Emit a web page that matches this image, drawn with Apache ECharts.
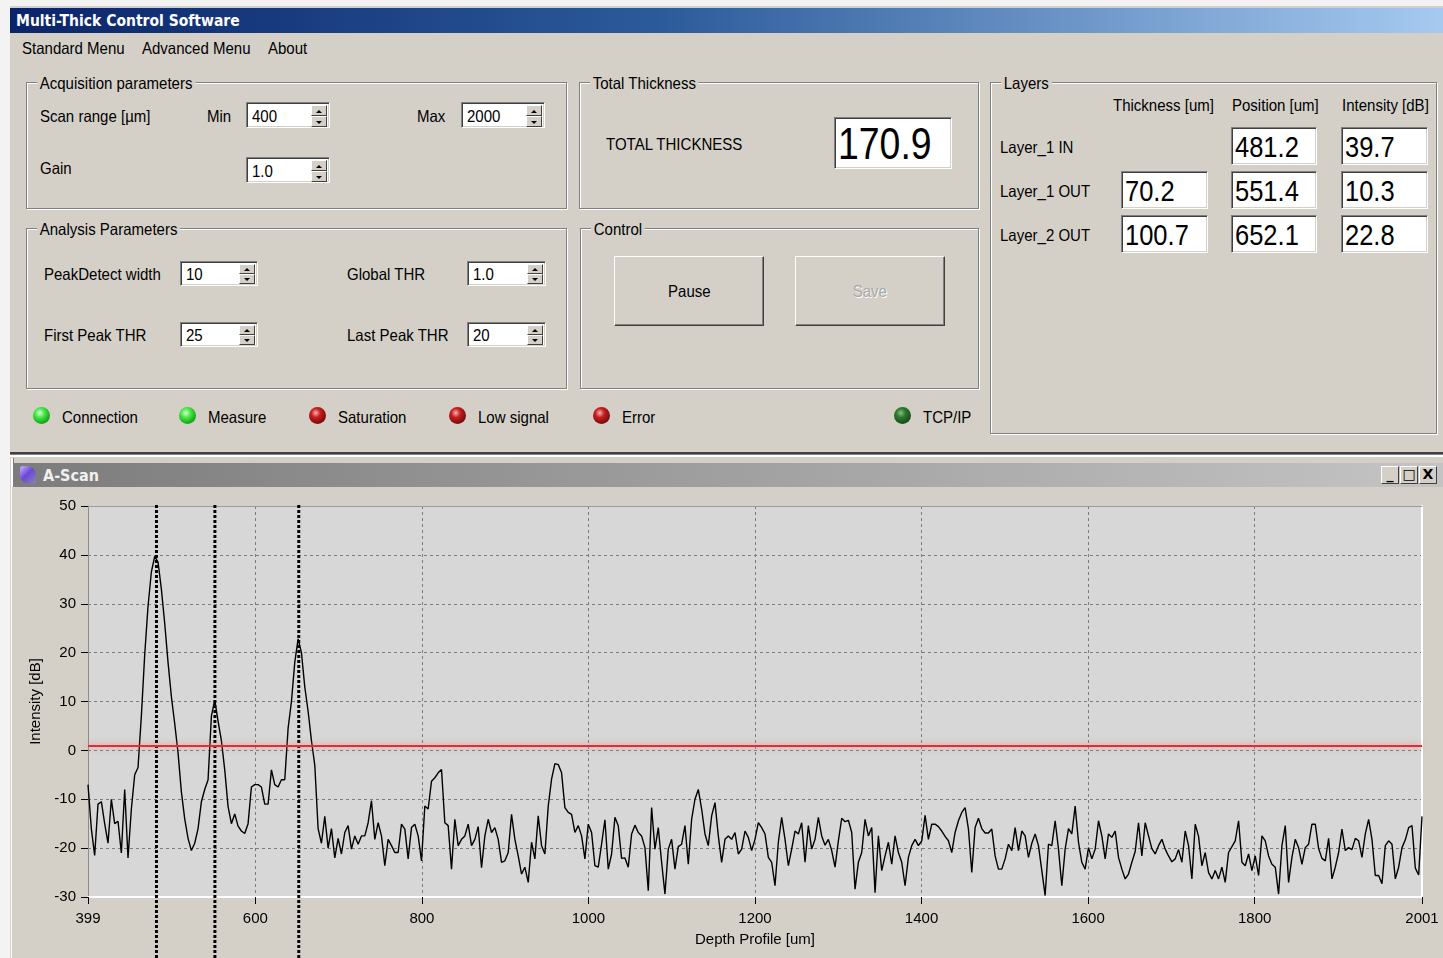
<!DOCTYPE html>
<html>
<head>
<meta charset="utf-8">
<title>Multi-Thick Control Software</title>
<script src="https://cdn.jsdelivr.net/npm/echarts@6/dist/echarts.min.js"></script>
<style>
  html, body { margin: 0; padding: 0; }
  body {
    width: 1443px; height: 958px; overflow: hidden; position: relative;
    background: #f3f3f3;
    font-family: 'Liberation Sans', Arial, sans-serif;
    color: #000;
  }
  #win { position: absolute; left: 10px; top: 6px; right: 0; bottom: 0; background: #d4d0c8; }
  .t { position: absolute; white-space: nowrap; }
  .grp { position: absolute; box-sizing: border-box; border: 1px solid #808080;
         box-shadow: 1px 1px 0 #ffffff, inset 1px 1px 0 #ffffff; }
  .box { position: absolute; box-sizing: border-box; background: #fff;
         border-top: 1px solid #808080; border-left: 1px solid #808080;
         border-bottom: 1px solid #ffffff; border-right: 1px solid #ffffff;
         box-shadow: inset 1px 1px 0 #404040, inset -1px -1px 0 #d4d0c8; overflow: hidden; }
  .spb { position: absolute; right: 2px; width: 16px; box-sizing: border-box; background: #d4d0c8;
         border-top: 1px solid #fff; border-left: 1px solid #fff;
         border-bottom: 1px solid #404040; border-right: 1px solid #404040; }
  .tri { position: absolute; left: 4px; width: 0; height: 0;
         border-left: 3px solid transparent; border-right: 3px solid transparent; }
  .btn { position: absolute; box-sizing: border-box; background: #d4d0c8;
         border-top: 1px solid #ffffff; border-left: 1px solid #ffffff;
         border-bottom: 1px solid #404040; border-right: 1px solid #404040;
         box-shadow: inset -1px -1px 0 #808080; text-align: center; }
  .led { position: absolute; width: 17px; height: 17px; border-radius: 50%; }
  .led.on  { background: radial-gradient(circle at 40% 35%, #d8ffd8 0%, #4be84b 30%, #12a812 70%, #0a6a0a 100%); }
  .led.off { background: radial-gradient(circle at 40% 35%, #ffb0b0 0%, #c42020 30%, #7a0606 75%, #4a0000 100%); }
  .led.dim { background: radial-gradient(circle at 40% 35%, #88c088 0%, #2f7a2f 30%, #154a15 75%, #0a2a0a 100%); }
  #chart { position: absolute; left: 12px; top: 487px; width: 1431px; height: 471px; }
</style>
</head>
<body>
<div id="win"></div>
<div id="ui"></div>
<div id="chart"></div>
<script>
// ---- measurement values -------------------------------------------------
const menuItems = ['Standard Menu', 'Advanced Menu', 'About'];
const scanMin = 400;
const scanMax = 2000;
const gain = '1.0';
const peakDetectWidth = 10;
const globalThr = 1.0;
const firstPeakThr = 25;
const lastPeakThr = 20;
const totalThickness = 170.9;

const layerNames = ['Layer_1 IN', 'Layer_1 OUT', 'Layer_2 OUT'];
const layerThickness = [null, 70.2, 100.7];
const layerPosition = [481.2, 551.4, 652.1];
const layerIntensity = [39.7, 10.3, 22.8];
const layerHeaders = ['Thickness [um]', 'Position [um]', 'Intensity [dB]'];

const ledNames = ['Connection', 'Measure', 'Saturation', 'Low signal', 'Error', 'TCP/IP'];
const ledStates = ['on', 'on', 'off', 'off', 'off', 'dim'];

// A-scan trace: intensity [dB] sampled evenly from depthStart to depthEnd [um]
const depthStart = 399;
const depthEnd = 2001;
const intensity = [
  -7, -16, -21.5, -11, -10.5, -15, -19, -10, -15, -14.5,
  -21, -8, -22, -12, -5, -3.5, 7, 19.5, 29.5, 36.5,
  39.7, 38.5, 33, 26, 18, 11, 5.5, -0.5, -8.5, -14,
  -18, -20.5, -19, -16, -10.5, -8, -6, 7, 10.3, 6,
  2, -4, -11.5, -15, -13, -15.5, -16.5, -17, -15, -7.5,
  -7, -7, -7.5, -11, -11, -4, -7, -7.5, -6, -6,
  4.5, 10, 18, 22.8, 20, 13, 8, 2, -3, -16,
  -19, -13.5, -20, -16, -22, -18, -21.2, -16.8, -15.4, -20.2,
  -17.5, -19.2, -17.5, -17.5, -14.8, -10.3, -18.2, -14.8, -17.5, -23.6,
  -18.2, -19.5, -20.9, -20.9, -15.1, -16.1, -22.2, -15.8, -15.1, -17.5,
  -22.6, -11.4, -12, -6.3, -5.6, -4.6, -3.9, -14.8, -15.4, -24.3,
  -14.1, -19.5, -18.2, -17.5, -15.1, -19.5, -18.2, -15.6, -24, -17.5,
  -14.1, -16.8, -15.8, -18.2, -22.9, -22.6, -20.9, -13.1, -18.2, -21.6,
  -25.3, -23.9, -27, -18.8, -22.2, -13.4, -19.5, -21.2, -11.4, -5.9,
  -2.7, -2.9, -4.6, -11.7, -12.7, -13.1, -16.8, -15.4, -17.5, -22.2,
  -15.1, -16.8, -23.6, -23.9, -19.2, -14.2, -24.3, -21.2, -13.7, -15.4,
  -22.1, -22, -23.9, -17.1, -15.3, -16.8, -17.5, -19.9, -28.7, -11.7,
  -20.2, -15.8, -22.9, -29.4, -20.2, -18.2, -24.3, -19.7, -19.2, -15.4,
  -23.3, -14.1, -10, -8, -12, -17.1, -19.5, -13.4, -10.7, -17.5,
  -22.9, -18.2, -17.5, -18.2, -16.8, -21.2, -20.2, -16.5, -17.8, -20.5,
  -18.2, -14.8, -15.8, -17.1, -21.9, -22.9, -27.7, -18.8, -13.7, -18.2,
  -23.6, -20.2, -16.5, -17.1, -14.8, -22.9, -15.4, -20.2, -18.2, -13.7,
  -17.5, -19.4, -18.2, -20.5, -23.9, -18.5, -13.9, -14.6, -14.3, -16.8,
  -28.4, -22.9, -20.9, -14.1, -17.5, -15.8, -29.1, -17.5, -24.6, -21.6,
  -18.8, -23.3, -17.5, -20.9, -22.9, -27.7, -21.9, -19.5, -18.2, -19.5,
  -18.5, -13.3, -18.2, -15.1, -15.1, -15.6, -16.5, -17.6, -18.5, -20.9,
  -16.8, -14.4, -12.7, -11.7, -16.1, -25, -15.8, -13.9, -16, -16.9,
  -16.9, -16.1, -21.6, -24.3, -24.3, -22.2, -19.2, -20.5, -15.8, -20.5,
  -16.5, -17.5, -21.9, -19, -17.1, -19.5, -24.6, -29.7, -19.2, -19.5,
  -14.4, -20.2, -27.7, -20.2, -16, -17.1, -11.4, -18.8, -22.9, -24.3,
  -19.9, -22.2, -20.2, -14.4, -17.5, -22.2, -17.1, -17.8, -16.5, -21.9,
  -24.3, -26.3, -25.3, -22.9, -20.7, -14.8, -21.6, -14.8, -17.5, -20.1,
  -21.2, -19.5, -18.2, -20.2, -21.6, -22.8, -22.2, -20.3, -22.9, -16.5,
  -19.5, -26.3, -15.1, -17.6, -23.6, -20.9, -25, -26.3, -24.6, -26.3,
  -23.9, -27, -20.9, -19.7, -18.5, -14.4, -22.9, -23.6, -21.2, -24.6,
  -21.6, -25.6, -17.5, -18.5, -21.6, -23.3, -23.9, -29.4, -19.5, -15.4,
  -27, -21.9, -18.2, -19.9, -23.3, -19.9, -19.2, -15.1, -15.1, -20.1,
  -22.1, -22.6, -18, -26.3, -23.9, -20.9, -16.1, -20.5, -19.9, -20.3,
  -18, -18.5, -21.9, -17.1, -14.1, -18.2, -25.6, -25.6, -27.3, -19.5,
  -18.5, -19.2, -26.3, -23.9, -19.9, -18.3, -15.8, -15.4, -24.1, -25.5,
  -13.5
];
const xTickValues = [399, 600, 800, 1000, 1200, 1400, 1600, 1800, 2001];
const yMin = -30;
const yMax = 50;
const yStep = 10;

// ---- window chrome ------------------------------------------------------
const ui = document.getElementById('ui');
const UI_FONT = 16.5;
const UI_SQUEEZE = 'scaleX(0.91)';
function add(cls, x, y, w, h, text, extra) {
  const d = document.createElement('div');
  if (cls) d.className = cls;
  d.style.position = 'absolute';
  d.style.left = x + 'px';
  d.style.top = y + 'px';
  if (w != null) d.style.width = w + 'px';
  if (h != null) d.style.height = h + 'px';
  if (text != null) d.textContent = text;
  if (extra) Object.assign(d.style, extra);
  ui.appendChild(d);
  return d;
}
// text placed by its left edge and vertical centre, in the narrow dialog style
function label(text, x, cy, size, extra) {
  const lh = Math.round(size * 1.2);
  return add('t', x, Math.round(cy - lh / 2) + 1, null, null, text,
    Object.assign({ fontSize: size + 'px', lineHeight: lh + 'px', transform: UI_SQUEEZE, transformOrigin: '0 50%' }, extra || {}));
}
function group(title, x, y, w, h) {
  add('grp', x, y, w, h);
  label(title, x + 11, y, UI_FONT, { background: '#d4d0c8', padding: '0 3px' });
}
function spinner(value, x, y, w, h) {
  const b = add('box', x, y, w, h);
  const v = document.createElement('div');
  v.textContent = value;
  Object.assign(v.style, { position: 'absolute', left: '5px', top: '1px', lineHeight: (h - 2) + 'px',
    fontSize: UI_FONT + 'px', transform: UI_SQUEEZE, transformOrigin: '0 50%' });
  b.appendChild(v);
  const half = Math.floor((h - 4) / 2);
  [0, 1].forEach(k => {
    const s = document.createElement('div');
    s.className = 'spb';
    s.style.top = (2 + k * half) + 'px';
    s.style.height = half + 'px';
    const tr = document.createElement('div');
    tr.className = 'tri';
    tr.style.top = Math.round(half / 2 - 2) + 'px';
    if (k === 0) tr.style.borderBottom = '3px solid #000';
    else tr.style.borderTop = '3px solid #000';
    s.appendChild(tr);
    b.appendChild(s);
  });
}
function valueBox(value, x, y, w, h, size) {
  const b = add('box', x, y, w, h);
  if (value == null) return b;
  const v = document.createElement('div');
  v.textContent = value;
  Object.assign(v.style, { position: 'absolute', left: '3px', top: '1px', lineHeight: (h - 2) + 'px',
    fontSize: size + 'px', transform: 'scaleX(0.85)', transformOrigin: '0 50%' });
  b.appendChild(v);
  return b;
}
function button(text, x, y, w, h, extra) {
  const b = add('btn', x, y, w, h);
  const s = document.createElement('span');
  s.textContent = text;
  Object.assign(s.style, { display: 'inline-block', fontSize: UI_FONT + 'px', lineHeight: (h - 2) + 'px', transform: UI_SQUEEZE }, extra || {});
  b.appendChild(s);
  return b;
}

// title bar and menu
add(null, 10, 8, 1433, 25, null, { background: 'linear-gradient(to right, #0a246a 0%, #2b5a9a 45%, #a6caf0 100%)' });
label('Multi-Thick Control Software', 16, 20, 15.5, { color: '#fff', fontWeight: 'bold', transform: 'none', fontFamily: "'DejaVu Sans Condensed','DejaVu Sans',sans-serif" });
const menuX = [22, 142, 268];
menuItems.forEach((m, i) => label(m, menuX[i], 47, UI_FONT));

// acquisition parameters
group('Acquisition parameters', 26, 82, 541, 127);
label('Scan range [µm]', 40, 115, UI_FONT);
label('Min', 207, 115, UI_FONT);
spinner(String(scanMin), 246, 102, 84, 26);
label('Max', 417, 115, UI_FONT);
spinner(String(scanMax), 461, 102, 84, 26);
label('Gain', 40, 167, UI_FONT);
spinner(gain, 246, 157, 84, 26);

// total thickness
group('Total Thickness', 579, 82, 400, 127);
label('TOTAL THICKNESS', 606, 143, UI_FONT);
valueBox(totalThickness.toFixed(1), 834, 117, 118, 52, 44);

// layers table
group('Layers', 990, 82, 447, 352);
const headX = [1113, 1232, 1342];
layerHeaders.forEach((h, i) => label(h, headX[i], 104, UI_FONT));
const rowY = [127, 171, 215];
const colX = [1121, 1231, 1341];
layerNames.forEach((n, r) => {
  label(n, 1000, rowY[r] + 19, UI_FONT);
  if (layerThickness[r] != null) valueBox(layerThickness[r].toFixed(1), colX[0], rowY[r], 87, 38, 30);
  valueBox(layerPosition[r].toFixed(1), colX[1], rowY[r], 86, 38, 30);
  valueBox(layerIntensity[r].toFixed(1), colX[2], rowY[r], 87, 38, 30);
});

// analysis parameters
group('Analysis Parameters', 26, 228, 541, 161);
label('PeakDetect width', 44, 273, UI_FONT);
spinner(String(peakDetectWidth), 180, 261, 78, 25);
label('Global THR', 347, 273, UI_FONT);
spinner(globalThr.toFixed(1), 467, 261, 79, 25);
label('First Peak THR', 44, 334, UI_FONT);
spinner(String(firstPeakThr), 180, 322, 78, 25);
label('Last Peak THR', 347, 334, UI_FONT);
spinner(String(lastPeakThr), 467, 322, 79, 25);

// control
group('Control', 580, 228, 399, 161);
button('Pause', 614, 256, 150, 70);
button('Save', 795, 256, 150, 70, { color: '#a8a8a8', textShadow: '1px 1px 0 #ffffff' });

// status LEDs
const ledX = [41, 187, 317, 457, 601, 902];
ledNames.forEach((n, i) => {
  add('led ' + ledStates[i], ledX[i] - 8, 407, null, null);
  label(n, ledX[i] + 21, 416, UI_FONT);
});

// splitter and A-Scan child window
add(null, 10, 452, 1433, 2, null, { background: '#404040' });
add(null, 10, 454, 1433, 1, null, { background: '#808080' });
add(null, 10, 455, 1433, 2, null, { background: '#ffffff' });
add(null, 11, 458, 2, 500, null, { background: '#ffffff' });
add(null, 13, 458, 1, 500, null, { background: '#808080' });
add(null, 14, 463, 1429, 24, null, { background: 'linear-gradient(to right, #7c7c7c 0%, #a0a0a0 50%, #c4c4c4 100%)' });
add(null, 20, 466, 16, 18, null, { background: 'linear-gradient(135deg, #c8b8ff 0%, #6a48d8 45%, #8a8aa8 100%)', borderRadius: '3px 9px 3px 9px' });
label('A-Scan', 43, 474, 16, { color: '#f0f0f0', fontWeight: 'bold', transform: 'none', fontFamily: "'DejaVu Sans Condensed','DejaVu Sans',sans-serif" });
const wb = ['_', '□', 'X'];
wb.forEach((c, i) => add('btn', 1381 + i * 19, 466, 18, 18, c,
  { fontSize: '14px', lineHeight: '15px', fontWeight: 'bold', fontFamily: "'DejaVu Sans',sans-serif", boxShadow: 'none' }));

// ---- A-Scan chart ---------------------------------------------------------
const fontFamily = "'Liberation Sans', Arial, sans-serif";
const depthStep = (depthEnd - depthStart) / (intensity.length - 1);
const trace = intensity.map((v, i) => [depthStart + i * depthStep, v]);
const gridDash = { color: '#7c7c7c', width: 1, type: [3, 3] };
const plainNumber = v => String(v);

const chart = echarts.init(document.getElementById('chart'), null, { renderer: 'canvas' });
chart.setOption({
  animation: false,
  backgroundColor: '#d4d0c8',
  grid: [
    { left: 76, top: 19, width: 1334, height: 391, show: true, backgroundColor: '#d7d7d7', borderWidth: 0 },
    { left: 76, top: 16, width: 1334, height: 455 }
  ],
  xAxis: [
    {
      gridIndex: 0, type: 'value', min: depthStart, max: depthEnd, position: 'bottom',
      name: 'Depth Profile [um]', nameLocation: 'middle', nameGap: 35,
      nameTextStyle: { color: '#000', fontSize: 15, fontFamily },
      axisLine: { show: true, onZero: false, lineStyle: { color: '#ffffff', width: 2 } },
      axisTick: { show: true, length: 7, customValues: xTickValues, lineStyle: { color: '#000' } },
      axisLabel: { customValues: xTickValues, formatter: plainNumber, color: '#000', fontSize: 15, margin: 14, fontFamily },
      splitLine: { show: true, lineStyle: gridDash }
    },
    {
      gridIndex: 0, type: 'value', min: depthStart, max: depthEnd, position: 'top',
      axisLine: { show: true, onZero: false, lineStyle: { color: '#9c9c9c', width: 1 } },
      axisTick: { show: false }, axisLabel: { show: false }, splitLine: { show: false }
    },
    { gridIndex: 1, type: 'value', min: depthStart, max: depthEnd, show: false }
  ],
  yAxis: [
    {
      gridIndex: 0, type: 'value', min: yMin, max: yMax, interval: yStep,
      name: 'Intensity [dB]', nameLocation: 'middle', nameGap: 40, nameRotate: 90,
      nameTextStyle: { color: '#000', fontSize: 15, fontFamily },
      axisLine: { show: true, onZero: false, lineStyle: { color: '#8c8c8c', width: 1 } },
      axisTick: { show: true, length: 7, lineStyle: { color: '#000' } },
      axisLabel: { formatter: plainNumber, color: '#000', fontSize: 15, margin: 12, fontFamily },
      splitLine: { show: true, lineStyle: gridDash }
    },
    {
      gridIndex: 0, type: 'value', min: yMin, max: yMax, position: 'right',
      axisLine: { show: true, onZero: false, lineStyle: { color: '#ffffff', width: 2 } },
      axisTick: { show: false }, axisLabel: { show: false }, splitLine: { show: false }
    },
    { gridIndex: 1, type: 'value', min: 0, max: 1, show: false }
  ],
  series: [
    {
      name: 'A-Scan', type: 'line', xAxisIndex: 0, yAxisIndex: 0,
      data: trace, showSymbol: false, silent: true,
      lineStyle: { color: '#000', width: 1.4 },
      markLine: {
        silent: true, symbol: 'none', label: { show: false },
        lineStyle: { color: '#e42b30', width: 2, type: 'solid', shadowColor: 'rgba(236,120,130,0.9)', shadowBlur: 7 },
        data: [{ yAxis: globalThr }]
      }
    },
    ...layerPosition.map((p, i) => ({
      name: layerNames[i], type: 'line', xAxisIndex: 2, yAxisIndex: 2,
      data: [[p, 0], [p, 1]], showSymbol: false, silent: true,
      lineStyle: { color: '#000', width: 3, type: [3, 2] }
    }))
  ]
});
</script>
</body>
</html>
